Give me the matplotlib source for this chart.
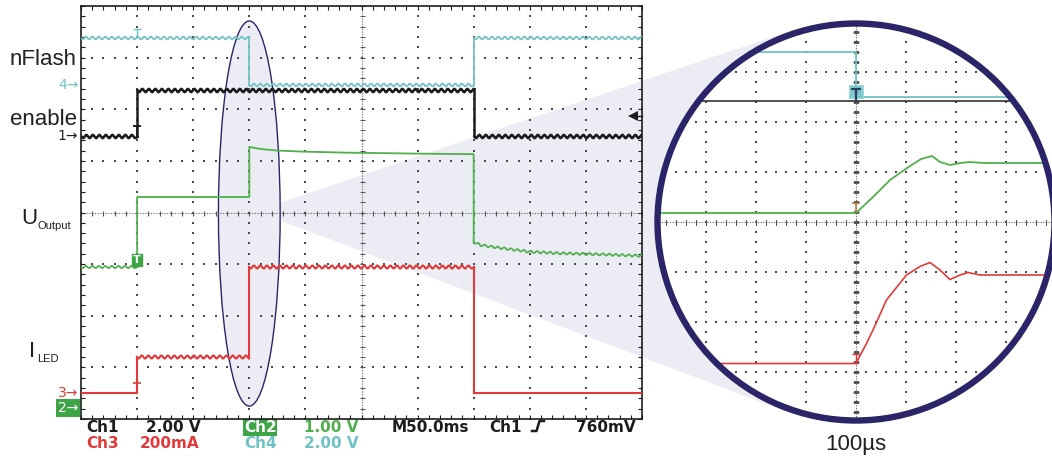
#!/usr/bin/env python3
import matplotlib
matplotlib.use("Agg")
import matplotlib.pyplot as plt
import numpy as np
from matplotlib.patches import Circle, Ellipse, Polygon, Rectangle
from matplotlib.path import Path
from matplotlib.transforms import blended_transform_factory


# --- [ flash LED driver: enable / nFlash / output voltage / LED current ] ---

# main capture, 50 ms/div, 10 x 8 divisions, trigger on Ch1 rising edge
TIME_RANGE = (-50.0, 450.0)   # ms
DIV_RANGE = (-4.0, 4.0)

# ground marker (div) and units per division
CH1_GROUND, CH1_PER_DIV = 1.48, 2.0      # enable, V
CH2_GROUND, CH2_PER_DIV = -3.79, 1.0     # U_output, V
CH3_GROUND, CH3_PER_DIV = -3.50, 200.0   # I_LED, mA
CH4_GROUND, CH4_PER_DIV = 2.47, 2.0      # nFlash, V
TRIGGER_LEVEL = 0.76                     # V on Ch1

# logic-like channels as step edges (ms) and levels between them
ENABLE_EDGES = [-50, 0, 300, 450]
ENABLE_LEVELS = [0.0, 1.79, 0.0]
NFLASH_EDGES = [-50, 100, 300, 450]
NFLASH_LEVELS = [1.82, 0.0, 1.82]
ILED_EDGES = [-50, 0, 100, 300, 450]
ILED_LEVELS = [0, 140, 490, 0]           # mA

UOUT_IDLE_T = [-50, 0]
UOUT_IDLE_V = [2.73, 2.73]
UOUT_ON_T = [0, 0, 100, 100, 110, 125, 147, 185, 252, 300, 300]
UOUT_ON_V = [2.73, 4.09, 4.09, 5.06, 5.02, 4.99, 4.97, 4.95, 4.93, 4.92, 3.22]
UOUT_TAIL_T = [300, 306, 315, 332, 350, 377, 413, 450]
UOUT_TAIL_V = [3.22, 3.16, 3.13, 3.08, 3.03, 3.00, 2.98, 2.95]

# zoomed view around the nFlash edge, 100 us/div
ZOOM_TIME_RANGE = (-400.0, 400.0)   # us
Z_CH1_GROUND = 1.52
Z_CH2_GROUND = -3.91
Z_CH3_GROUND = -3.53
Z_CH4_GROUND = 2.50

Z_ENABLE_T = [-400, 400]
Z_ENABLE_V = [1.8, 1.8]
Z_NFLASH_T = [-400, 0, 0, 400]
Z_NFLASH_V = [1.8, 1.8, 0.0, 0.0]
Z_UOUT_T = [-400, 0, 34, 68, 102, 130, 152, 168, 188, 208, 228, 254, 400]
Z_UOUT_V = [4.09, 4.09, 4.41, 4.75, 4.99, 5.17, 5.23, 5.11, 5.05, 5.09, 5.11, 5.09, 5.09]
Z_ILED_T = [-400, 0, 7, 21, 34, 61, 101, 128, 148, 168, 188, 208, 224, 248, 400]
Z_ILED_I = [140, 140, 168, 220, 274, 394, 494, 528, 544, 514, 476, 494, 504, 494, 494]

# scope readout
READOUT_ROW1 = ["Ch1", "2.00 V", "Ch2", "1.00 V", "M50.0ms", "Ch1", "760mV"]
READOUT_ROW2 = ["Ch3", "200mA", "Ch4", "2.00 V"]
ZOOM_LABEL = "100\u00b5s"

# colours
BLACK = "#1c1c1c"
CYAN = "#6fc3c7"
GREEN = "#4fb04c"
BOX_GREEN = "#3da546"
RED = "#e23a3a"
NAVY = "#2c2468"
LAVENDER = "#ecedf4"
LABEL = "#231f20"
GRID = "#4a4a4a"

# layout, pixels
W, H, DPI = 1052, 457, 100
SCOPE_BOX = (81, 6, 642, 419)          # left, top, right, bottom
ZOOM_CENTER = (856, 222)
ZOOM_R = 202
CONE_APEX = (255, 211)
ELLIPSE_W, ELLIPSE_H = 55.0, 7.46      # ms, div
SANS = ["Liberation Sans", "DejaVu Sans"]
RIPPLE_PERIOD = 6.5                    # px


def px_rect(left, top, right, bottom):
    return [left / W, 1 - bottom / H, (right - left) / W, (bottom - top) / H]


def to_div(values, ground, per_div):
    return ground + np.asarray(values, dtype=float) / per_div


def trace(ax, t, y, color, lw, ripple=None, clip=None, z=3):
    (line,) = ax.plot(t, y, color=color, lw=lw, zorder=z, solid_capstyle="projecting")
    if ripple is not None:
        line.set_sketch_params(ripple, RIPPLE_PERIOD, 1.0)
    if clip is not None:
        line.set_clip_path(clip)
    return line


def step_trace(ax, edges, levels, ground, per_div, color, lw, ripple, ripple_at_zero=True):
    y = to_div(levels, ground, per_div)
    for i, level in enumerate(levels):
        wavy = ripple if (ripple_at_zero or level != 0) else None
        trace(ax, [edges[i], edges[i + 1]], [y[i], y[i]], color, lw, ripple=wavy)
    for i in range(1, len(levels)):
        trace(ax, [edges[i], edges[i]], [y[i - 1], y[i]], color, lw)


def tee_marker():
    verts = [(-0.4, 1.0), (0.4, 1.0), (0.0, 1.0), (0.0, 0.0)]
    codes = [Path.MOVETO, Path.LINETO, Path.MOVETO, Path.LINETO]
    return Path(verts, codes)


def draw_grid(ax, x_lines, y_lines, x_center, y_center, x_step, y_step, tick_w, tick_h, clip=None):
    x0, x1 = ax.get_xlim()
    y0, y1 = ax.get_ylim()
    ys = np.arange(y0, y1 + 1e-9, y_step)
    xs = np.arange(x0, x1 + 1e-9, x_step)
    pts = []
    for x in x_lines:
        if x != x_center:
            pts += [(x, y) for y in ys]
    for y in y_lines:
        if y != y_center:
            pts += [(x, y) for x in xs]
    pts = np.array(pts)
    dots = ax.scatter(pts[:, 0], pts[:, 1], s=0.9, marker="s", color=GRID, lw=0, zorder=1)
    arts = [dots]
    arts += ax.plot([x_center, x_center], [y0, y1], color="#777777", lw=0.8,
                    ls=(0, (1.2, 1.2)), zorder=1)
    arts += ax.plot([x0, x1], [y_center, y_center], color="#777777", lw=0.8,
                    ls=(0, (1.2, 1.2)), zorder=1)
    arts += ax.plot(np.full(ys.size, x_center), ys, ls="none", marker="_",
                    ms=tick_w, mew=0.8, color="#555555", zorder=1)
    arts += ax.plot(xs, np.full(xs.size, y_center), ls="none", marker="|",
                    ms=tick_h, mew=0.8, color="#555555", zorder=1)
    if clip is not None:
        for a in arts:
            a.set_clip_path(clip)


def draw_background(fig):
    bg = fig.add_axes([0, 0, 1, 1], zorder=0)
    bg.set_xlim(0, W)
    bg.set_ylim(H, 0)
    bg.axis("off")

    apex = np.array(CONE_APEX, dtype=float)
    center = np.array(ZOOM_CENTER, dtype=float)
    d = center - apex
    dist = np.hypot(d[0], d[1])
    base = np.arctan2(d[1], d[0])
    half = np.arcsin(ZOOM_R / dist)
    reach = np.sqrt(dist ** 2 - ZOOM_R ** 2)
    p1 = apex + reach * np.array([np.cos(base - half), np.sin(base - half)])
    p2 = apex + reach * np.array([np.cos(base + half), np.sin(base + half)])
    bg.add_patch(Polygon([apex, p1, center, p2], closed=True, fc=LAVENDER, ec="none"))
    return bg


def draw_labels(bg):
    kw = dict(family=SANS, color=LABEL, va="baseline")
    bg.text(77, 65, "nFlash", ha="right", fontsize=16, **kw)
    bg.text(77, 125, "enable", ha="right", fontsize=16, **kw)
    bg.text(21, 224, "U", ha="left", fontsize=16, **kw)
    bg.text(38, 229, "Output", ha="left", fontsize=8, **kw)
    bg.text(29, 357, "I", ha="left", fontsize=16, **kw)
    bg.text(37, 362, "LED", ha="left", fontsize=8, **kw)
    bg.text(ZOOM_CENTER[0], 450, ZOOM_LABEL, ha="center", fontsize=16, **kw)

    ro = dict(family="DejaVu Sans", fontsize=11, fontweight="bold", va="baseline", ha="left")
    row1_x = [86, 146, 244, 304, 392, 489, 576]
    row1_c = [BLACK, BLACK, "white", GREEN, BLACK, BLACK, BLACK]
    for text, x, c in zip(READOUT_ROW1, row1_x, row1_c):
        t = bg.text(x, 432, text, color=c, **ro)
        if c == "white":
            t.set_bbox(dict(boxstyle="square,pad=0.04", fc=BOX_GREEN, ec="none"))
    row2_x = [86, 140, 244, 304]
    row2_c = [RED, RED, CYAN, CYAN]
    for text, x, c in zip(READOUT_ROW2, row2_x, row2_c):
        bg.text(x, 448.5, text, color=c, **ro)
    # rising edge trigger glyph
    bg.plot([532, 536.5, 539.5, 544], [431, 431, 421, 421], color=BLACK, lw=1.8)


def draw_scope(fig):
    ax = fig.add_axes(px_rect(*SCOPE_BOX), zorder=1)
    ax.set_facecolor("none")
    ax.set_xlim(*TIME_RANGE)
    ax.set_ylim(*DIV_RANGE)
    for s in ax.spines.values():
        s.set_linewidth(1.2)
        s.set_color(BLACK)
    ax.set_xticks(np.arange(TIME_RANGE[0], TIME_RANGE[1] + 1, 10))
    ax.set_yticks(np.arange(DIV_RANGE[0], DIV_RANGE[1] + 0.01, 0.2))
    ax.tick_params(direction="in", length=3, width=0.8, top=True, right=True,
                   labelbottom=False, labelleft=False, color=BLACK)

    ax.add_patch(Ellipse((100, -0.02), ELLIPSE_W, ELLIPSE_H, fc=LAVENDER, ec=NAVY,
                         lw=1.0, zorder=0.5))

    draw_grid(ax, np.arange(0, 401, 50), np.arange(-3, 4), 200, 0, 10, 0.2, 3.6, 3.6)

    step_trace(ax, NFLASH_EDGES, NFLASH_LEVELS, CH4_GROUND, CH4_PER_DIV, CYAN, 1.3, 1.4)
    step_trace(ax, ENABLE_EDGES, ENABLE_LEVELS, CH1_GROUND, CH1_PER_DIV, BLACK, 1.8, 1.7)
    trace(ax, UOUT_IDLE_T, to_div(UOUT_IDLE_V, CH2_GROUND, CH2_PER_DIV), GREEN, 1.3, ripple=1.1)
    trace(ax, UOUT_ON_T, to_div(UOUT_ON_V, CH2_GROUND, CH2_PER_DIV), GREEN, 1.3)
    trace(ax, UOUT_TAIL_T, to_div(UOUT_TAIL_V, CH2_GROUND, CH2_PER_DIV), GREEN, 1.3, ripple=1.1)
    step_trace(ax, ILED_EDGES, ILED_LEVELS, CH3_GROUND, CH3_PER_DIV, RED, 1.5, 1.6,
               ripple_at_zero=False)

    # trigger marks at t = 0
    tee = tee_marker()
    ax.plot(0, to_div(NFLASH_LEVELS[0], CH4_GROUND, CH4_PER_DIV), marker=tee, ms=13,
            mew=1.0, color=CYAN, zorder=4)
    ax.plot(0, to_div(ENABLE_LEVELS[0], CH1_GROUND, CH1_PER_DIV), marker=tee, ms=15,
            mew=1.4, color=BLACK, zorder=4)
    ax.plot(0, to_div(ILED_LEVELS[0], CH3_GROUND, CH3_PER_DIV), marker=tee, ms=14,
            mew=1.2, color=RED, zorder=4)
    ax.annotate("T", xy=(0, to_div(UOUT_IDLE_V[-1], CH2_GROUND, CH2_PER_DIV)),
                xytext=(0, 5.2), textcoords="offset points", ha="center", va="center",
                fontsize=8, color="white", fontweight="bold", zorder=5,
                bbox=dict(boxstyle="square,pad=0.12", fc=BOX_GREEN, ec=BOX_GREEN))

    # ground markers on the left edge
    edge = blended_transform_factory(ax.transAxes, ax.transData)
    gkw = dict(xycoords=edge, textcoords="offset points", xytext=(-2, 0), ha="right",
               va="center", fontsize=10, family="DejaVu Sans", annotation_clip=False)
    ax.annotate("4\u2192", xy=(0, CH4_GROUND), color=CYAN, **gkw)
    ax.annotate("1\u2192", xy=(0, CH1_GROUND), color=BLACK, **gkw)
    ax.annotate("3\u2192", xy=(0, CH3_GROUND), color=RED, **gkw)
    ax.annotate("2\u2192", xy=(0, CH2_GROUND), color="white",
                bbox=dict(boxstyle="square,pad=0.12", fc=BOX_GREEN, ec="none"), **gkw)

    # trigger level arrow on the right edge
    level = to_div(TRIGGER_LEVEL, CH1_GROUND, CH1_PER_DIV)
    ax.plot([0.984, 1.0], [level, level], transform=edge, color=BLACK, lw=1.0,
            clip_on=False, zorder=4)
    ax.plot(0.984, level, transform=edge, marker="<", ms=7, color=BLACK, mew=0,
            clip_on=False, zorder=4)
    return ax


def draw_zoom(fig):
    cx, cy = ZOOM_CENTER
    ax = fig.add_axes(px_rect(cx - 200, cy - 200, cx + 200, cy + 200), zorder=2)
    ax.set_facecolor("none")
    ax.axis("off")
    ax.set_xlim(*ZOOM_TIME_RANGE)
    ax.set_ylim(*DIV_RANGE)

    ax.add_patch(Circle((0.5, 0.5), ZOOM_R / 400, transform=ax.transAxes, fc="white",
                        ec="none", zorder=0))
    clip = Circle((0.5, 0.5), 197 / 400, transform=ax.transAxes, fc="none", ec="none")
    ax.add_patch(clip)

    draw_grid(ax, np.arange(-300, 301, 100), np.arange(-3, 4), 0, 0, 20, 0.2, 5.0, 3.6,
              clip=clip)

    trace(ax, Z_NFLASH_T, to_div(Z_NFLASH_V, Z_CH4_GROUND, CH4_PER_DIV), CYAN, 1.3, clip=clip)
    trace(ax, Z_ENABLE_T, to_div(Z_ENABLE_V, Z_CH1_GROUND, CH1_PER_DIV), "#333333", 1.2, clip=clip)
    trace(ax, Z_UOUT_T, to_div(Z_UOUT_V, Z_CH2_GROUND, CH2_PER_DIV), GREEN, 1.3, clip=clip)
    trace(ax, Z_ILED_T, to_div(Z_ILED_I, Z_CH3_GROUND, CH3_PER_DIV), RED, 1.2, clip=clip)

    # cursor / trigger marks at the nFlash edge
    black_level = to_div(Z_ENABLE_V[0], Z_CH1_GROUND, CH1_PER_DIV)
    ax.add_patch(Rectangle((-14, black_level + 0.06), 28, 0.27, fc=CYAN, ec="#9fd8da",
                           lw=0.8, alpha=0.85, zorder=4))
    tee = tee_marker()
    ax.plot(0, black_level, marker=tee, ms=17, mew=1.6, color="#2b3f63", zorder=5)
    ax.plot(0, to_div(Z_UOUT_V[0], Z_CH2_GROUND, CH2_PER_DIV), marker=tee, ms=15, mew=1.1,
            color="#b8763a", zorder=5)
    ax.plot(0, to_div(Z_ILED_I[0], Z_CH3_GROUND, CH3_PER_DIV), marker=tee, ms=14, mew=1.0,
            color=RED, zorder=5)

    ax.add_patch(Circle((0.5, 0.5), 198.5 / 400, transform=ax.transAxes, fc="none",
                        ec=NAVY, lw=4.6, zorder=10, clip_on=False))
    return ax


if __name__ == "__main__":
    fig = plt.figure(figsize=(W / DPI, H / DPI), dpi=DPI)
    fig.patch.set_facecolor("white")
    bg = draw_background(fig)
    draw_scope(fig)
    draw_zoom(fig)
    draw_labels(bg)
    fig.savefig("out.png", dpi=DPI)
